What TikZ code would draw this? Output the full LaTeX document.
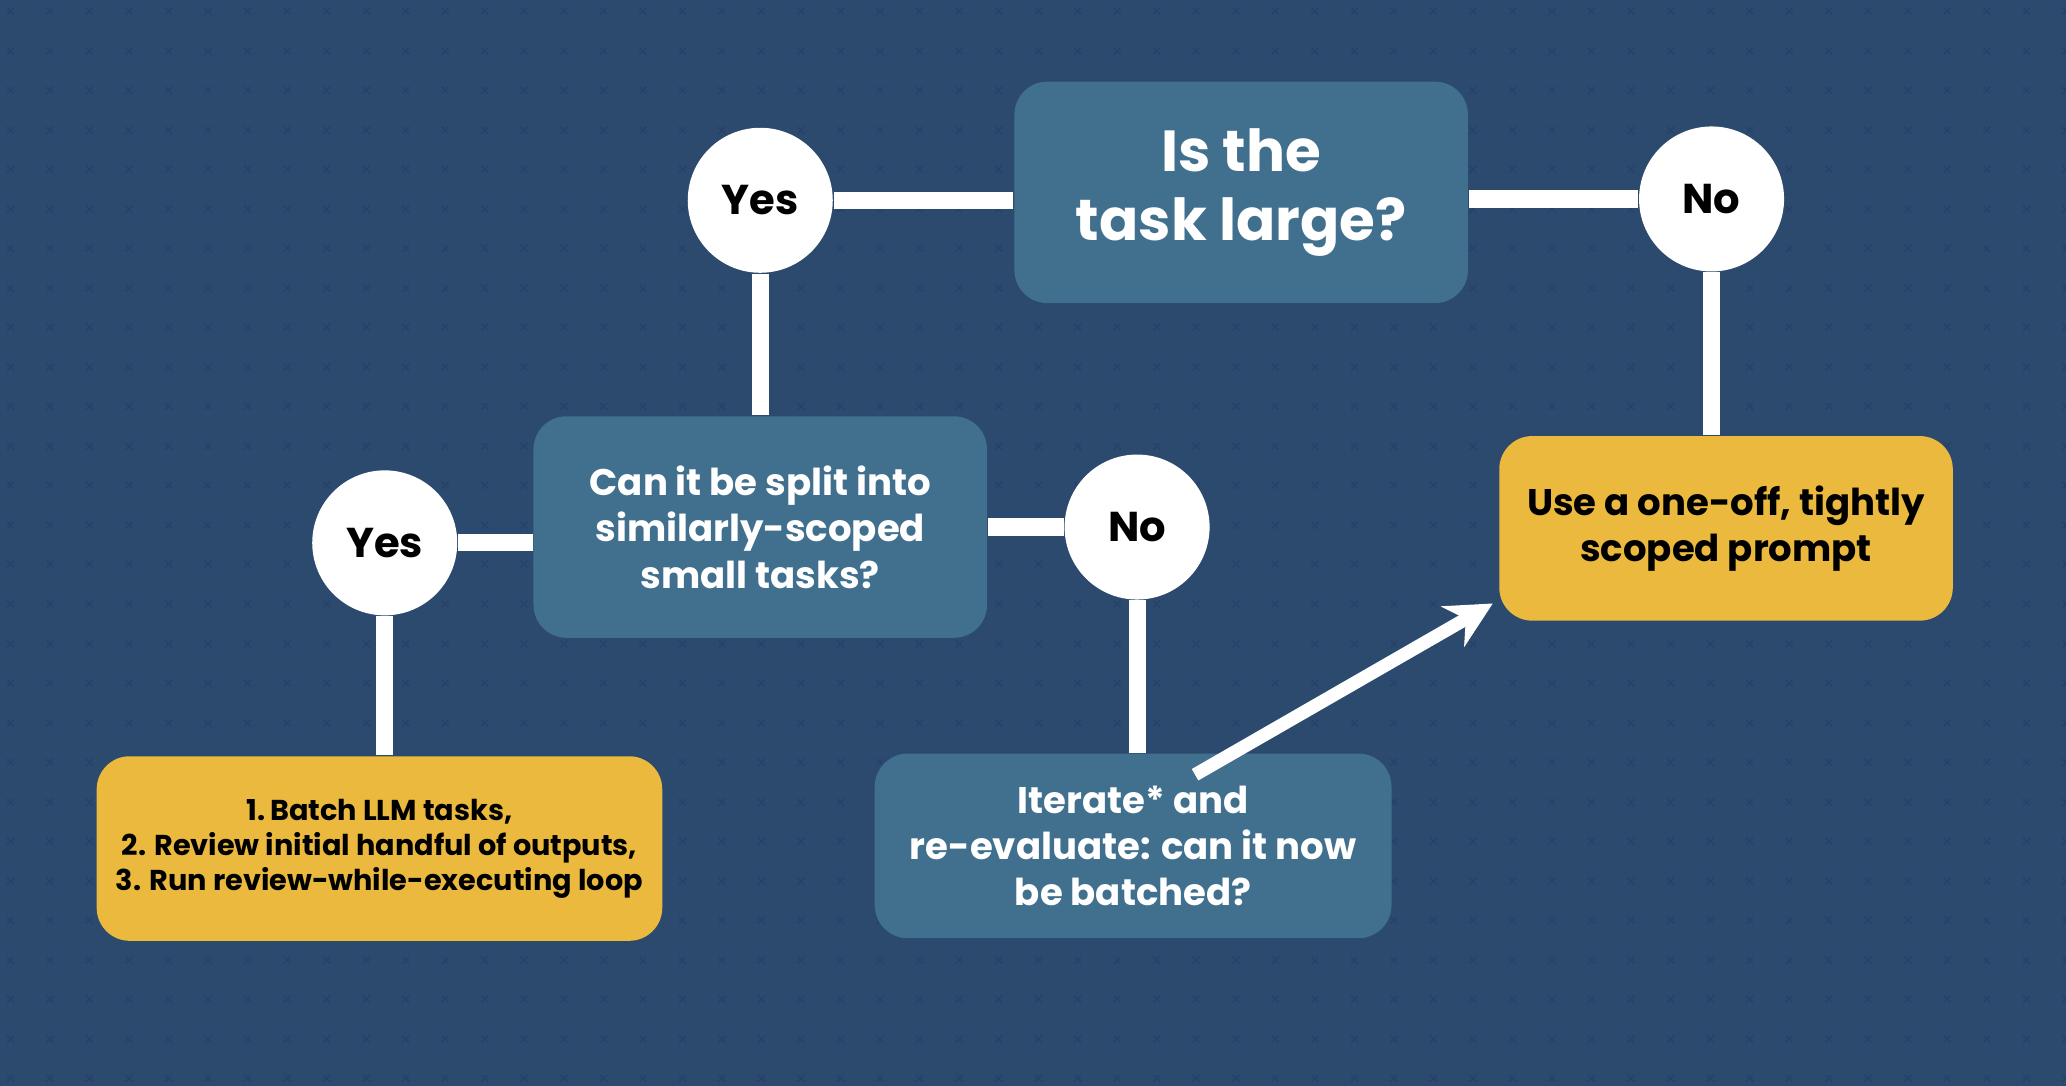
\documentclass[tikz,border=0pt]{standalone}
\usepackage{fontspec}
\setmainfont{Poppins}
\usetikzlibrary{arrows.meta}
\definecolor{bg}{HTML}{2B4A6E}
\definecolor{boxc}{HTML}{41708F}
\definecolor{yel}{HTML}{EBB93E}
\definecolor{xc}{HTML}{26426A}
\begin{document}
\begin{tikzpicture}[x=0.01cm,y=-0.01cm,
  box/.style={fill=boxc,rounded corners=0.25cm,text=white,align=center,font=\bfseries},
  ybox/.style={fill=yel,rounded corners=0.25cm,text=black,align=center,font=\bfseries},
  circ/.style={circle,fill=white,minimum size=1.1cm,inner sep=0pt,font=\bfseries\fontsize{9}{10}\selectfont},
  ln/.style={white,line width=1.3mm}]
\fill[bg] (0,0) rectangle (1568,824);
\useasboundingbox (0,0) rectangle (1568,824);
\foreach \i in {0,...,52}{\foreach \j in {0,...,27}{
  \node[text=xc,font=\fontsize{4}{4}\selectfont,inner sep=0pt] at (\i*30+8,\j*30+10) {×};}}
\node[box,minimum width=3.44cm,minimum height=1.68cm,font=\bfseries\fontsize{12.5}{15}\selectfont] (top) at (942,146) {Is the\\task large?};
\node[box,minimum width=3.44cm,minimum height=1.68cm,font=\bfseries\fontsize{8}{10}\selectfont] (mid) at (577,400) {Can it be split into\\similarly-scoped\\small tasks?};
\node[box,minimum width=3.92cm,minimum height=1.40cm,font=\bfseries\fontsize{8}{10}\selectfont] (iter) at (860,642) {Iterate* and\\re-evaluate: can it now\\be batched?};
\node[ybox,minimum width=3.44cm,minimum height=1.40cm,font=\bfseries\fontsize{8}{10}\selectfont] (one) at (1310,401) {Use a one-off, tightly\\scoped prompt};
\node[ybox,minimum width=4.29cm,minimum height=1.40cm,font=\bfseries\fontsize{6.2}{7.6}\selectfont] (batch) at (288,644) {1.\,Batch LLM tasks,\\2. Review initial handful of outputs,\\3. Run review-while-executing loop};
\node[circ] (y1) at (577,152) {Yes};
\node[circ] (n1) at (1299,151) {No};
\node[circ] (y2) at (292,412) {Yes};
\node[circ] (n2) at (863,400) {No};
\begin{scope}[on background layer/.try]
\end{scope}
\draw[ln] (top.west |- y1.east) -- (y1.east);
\draw[ln] (y1.south) -- (y1.south |- mid.north);
\draw[ln] (top.east |- n1.west) -- (n1.west);
\draw[ln] (n1.south) -- (n1.south |- one.north);
\draw[ln] (mid.west |- y2.east) -- (y2.east);
\draw[ln] (y2.south) -- (y2.south |- batch.north);
\draw[ln] (mid.east |- n2.west) -- (n2.west);
\draw[ln] (n2.south) -- (n2.south |- iter.north);
\coordinate (a0) at (907,588);
\coordinate (a1) at (1133,458);
\draw[white,line width=1mm,-{Stealth[length=3.5mm,width=3.5mm]}] (a0) -- (a1);
\end{tikzpicture}
\end{document}
